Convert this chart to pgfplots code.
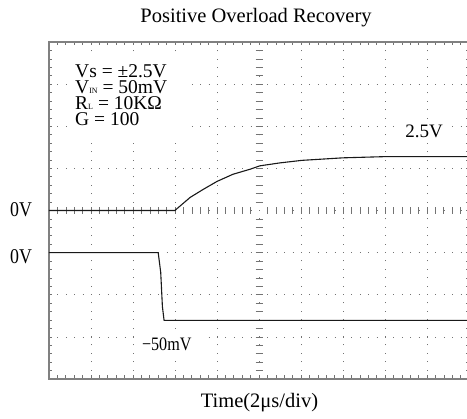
\documentclass[border=0pt]{standalone}
\usepackage{pgfplots}
\pgfplotsset{compat=1.18}
\usepackage{fontspec}
\setmainfont{Liberation Serif}
\definecolor{gridc}{gray}{0.45}
\definecolor{framec}{gray}{0.5}
\begin{document}
\begin{tikzpicture}
\pgfplotsset{scopeset/.style={width=420pt,height=337pt,scale only axis,at={(49pt,40pt)},anchor=south west}}
% centre cross of the graticule
\begin{axis}[scopeset, xmin=-5,xmax=5,ymin=-4,ymax=4,
  axis lines=middle,
  axis line style={-,gridc,line width=0.6pt,dash pattern=on 1pt off 7.4pt},
  xtick={-5,...,5}, ytick={-4,...,4}, minor tick num=4,
  xticklabels={}, yticklabels={}, tick align=center,
  major tick length=7pt, minor tick length=7pt,
  tick style={gridc,line width=0.6pt}]
\end{axis}
% main graticule with traces
\begin{axis}[scopeset, xmin=0,xmax=10,ymin=-4,ymax=4,
  axis line style={framec,line width=1.5pt},
  xtick={0,...,10}, ytick={-4,...,4}, minor tick num=4,
  xticklabels={}, yticklabels={},
  tick align=inside, major tick length=3.5pt, minor tick length=3.5pt,
  tick style={gridc,line width=0.6pt},
  grid=major, major grid style={gridc,line width=0.6pt,dash pattern=on 1pt off 7.4pt},
  clip=false]
\fill[white] (axis cs:0.55,1.69) rectangle (axis cs:3.24,3.63);
\fill[white] (axis cs:8.3,1.62) rectangle (axis cs:9.6,2.17);
\fill[white] (axis cs:2.1,-2.92) rectangle (axis cs:3.76,-3.45);
\addplot[black!90,line width=1.1pt] coordinates {(0,0) (3.0,0) (3.02,0.02) (3.36,0.31) (3.67,0.50) (4.0,0.69) (4.38,0.86) (4.79,0.98) (5.02,1.06) (5.5,1.13) (6.02,1.19) (7.0,1.25) (8.05,1.28) (10,1.28)};
\addplot[black!90,line width=1.1pt] coordinates {(0,-1) (2.60,-1) (2.66,-1.47) (2.70,-2.28) (2.74,-2.61) (10,-2.61)};
\node[anchor=north west,inner sep=0pt,align=left,font=\fontsize{19.5}{16.3}\selectfont] at (axis cs:0.62,3.48)
  {Vs = ±2.5V\\V{\fontsize{8}{9}\selectfont IN} = 50mV\\R{\fontsize{8}{9}\selectfont L} = 10KΩ\\G = 100};
\node[anchor=base west,inner sep=0pt,font=\fontsize{19}{22}\selectfont] at (axis cs:8.48,1.73) {2.5V};
\node[anchor=base west,inner sep=0pt,font=\fontsize{19}{22}\selectfont] at (axis cs:2.21,-3.33) {\scalebox{0.85}[1]{−50mV}};
\end{axis}
\node[anchor=base,inner sep=0pt] at (256pt,396pt) {\fontsize{20.5}{24}\selectfont Positive Overload Recovery};
\node[anchor=base,inner sep=0pt] at (259.5pt,11pt) {\fontsize{20.5}{24}\selectfont Time(2μs/div)};
\node[anchor=base,inner sep=0pt] at (21pt,202pt) {\fontsize{21}{24}\selectfont\scalebox{0.85}[1]{0V}};
\node[anchor=base,inner sep=0pt] at (21pt,155pt) {\fontsize{21}{24}\selectfont\scalebox{0.85}[1]{0V}};
\pgfresetboundingbox
\useasboundingbox (0,0) rectangle (467pt,419pt);
\end{tikzpicture}
\end{document}
